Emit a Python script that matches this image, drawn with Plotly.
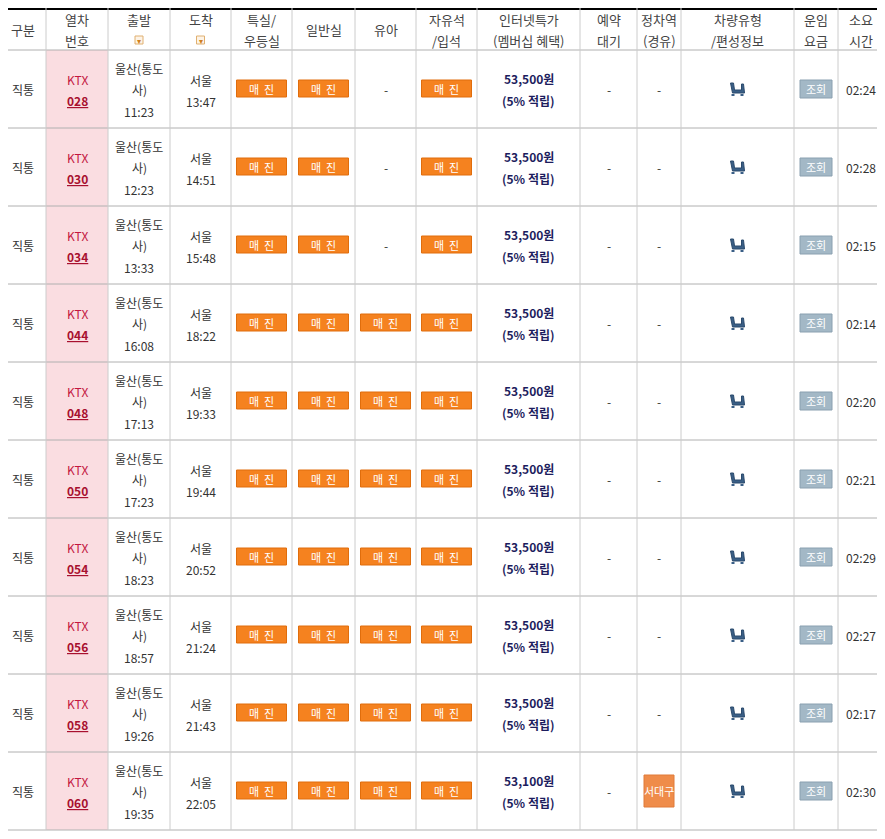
import plotly.graph_objects as go

headers = [["구분"], ["열차", "번호"], ["출발", ""], ["도착", ""], ["특실/", "우등실"], ["일반실"], ["유아"],
           ["자유석", "/입석"], ["인터넷특가", "(멤버십 혜택)"], ["예약", "대기"], ["정차역", "(경유)"],
           ["차량유형", "/편성정보"], ["운임", "요금"], ["소요", "시간"]]
col_edges = [0, 46, 108, 170, 231, 292, 355, 416, 477, 580, 637, 681, 794, 838, 883]
train_no = ["028", "030", "034", "044", "048", "050", "054", "056", "058", "060"]
dep_time = ["11:23", "12:23", "13:33", "16:08", "17:13", "17:23", "18:23", "18:57", "19:26", "19:35"]
arr_time = ["13:47", "14:51", "15:48", "18:22", "19:33", "19:44", "20:52", "21:24", "21:43", "22:05"]
infant = ["-", "-", "-", "매진", "매진", "매진", "매진", "매진", "매진", "매진"]
price = ["53,500원"] * 9 + ["53,100원"]
stops = ["-"] * 9 + ["서대구"]
duration = ["02:24", "02:28", "02:15", "02:14", "02:20", "02:21", "02:29", "02:27", "02:17", "02:30"]

HEAD_TOP, HEAD_BOT, ROW_H = 8, 50, 78
FONT = "Noto Sans CJK KR, Noto Sans, sans-serif"
shapes, ann = [], []

def cx(i):
    return (col_edges[i] + col_edges[i + 1]) / 2

def text(x, y, s, size=12, color="#333", bold=False, underline=False):
    if bold:
        s = "<b>" + s + "</b>"
    if underline:
        s = "<u>" + s + "</u>"
    ann.append(dict(x=x, y=y, text=s, showarrow=False, xref="x", yref="y",
                    font=dict(size=size, color=color, family=FONT)))

def rect(x0, y0, x1, y1, fill, line=None):
    shapes.append(dict(type="rect", x0=x0, y0=y0, x1=x1, y1=y1, xref="x", yref="y",
                       fillcolor=fill, line=dict(width=1 if line else 0, color=line or fill)))

def soldout(i, yc):
    rect(cx(i) - 25, yc - 9, cx(i) + 25, yc + 8, "#f5821f", "#e06d0c")
    text(cx(i), yc, "매  진", 11, "white")

rect(0, 8, 885, 10, "#000000")

for i, h in enumerate(headers):
    if len(h) == 1:
        text(cx(i), 29, h[0], 13, "#444")
    else:
        text(cx(i), 19, h[0], 13, "#444")
        if h[1]:
            text(cx(i), 40, h[1], 13, "#444")
        else:
            rect(cx(i) - 4, 36, cx(i) + 4, 44, "#fdf3e6", "#e0b070")
            text(cx(i), 40, "▾", 8, "#d08020")

n = len(train_no)
for r in range(n):
    top = HEAD_BOT + r * ROW_H
    yc = top + ROW_H / 2
    rect(col_edges[1], top, col_edges[2], top + ROW_H, "#fadde1")
    text(cx(0), yc, "직통")
    text(cx(1), yc - 10, "KTX", 12, "#c4163f")
    text(cx(1), yc + 11, "<b><u>" + train_no[r] + "</u></b>", 12, "#a8102f")
    text(cx(2), yc - 21, "울산(통도")
    text(cx(2), yc, "사)")
    text(cx(2), yc + 22, dep_time[r])
    text(cx(3), yc - 9, "서울")
    text(cx(3), yc + 12, arr_time[r])
    soldout(4, yc)
    soldout(5, yc)
    if infant[r] == "매진":
        soldout(6, yc)
    else:
        text(cx(6), yc, "-")
    soldout(7, yc)
    text(cx(8), yc - 11, price[r], 12, "#1d1d5e", bold=True)
    text(cx(8), yc + 11, "(5% 적립)", 12, "#1d1d5e", bold=True)
    text(cx(9), yc, "-")
    if stops[r] == "-":
        text(cx(10), yc, "-")
    else:
        rect(cx(10) - 15, yc - 16, cx(10) + 15, yc + 16, "#ef8c4a", "#e07a38")
        text(cx(10), yc, stops[r], 11, "white")
    ix = cx(11)
    shapes.append(dict(type="path", xref="x", yref="y",
                       path=f"M{ix-7},{yc-6} L{ix-5},{yc+4} L{ix+7},{yc+4} L{ix+6},{yc-5} L{ix+4},{yc-5} L{ix+4},{yc+1} L{ix-3},{yc+1} L{ix-4},{yc-6} Z",
                       fillcolor="#3a5f86", line=dict(width=1, color="#2b4a6c")))
    rect(ix - 6, yc + 5, ix - 3, yc + 7, "#3a5f86")
    rect(ix + 3, yc + 5, ix + 6, yc + 7, "#3a5f86")
    rect(cx(12) - 16, yc - 9, cx(12) + 16, yc + 9, "#a3b8c6", "#8aa0b0")
    text(cx(12), yc, "조회", 11, "white")
    text(cx(13), yc, duration[r])

bottom = HEAD_BOT + n * ROW_H
for r in range(n + 1):
    y = HEAD_BOT + r * ROW_H
    shapes.append(dict(type="line", x0=0, x1=885, y0=y, y1=y, xref="x", yref="y",
                       line=dict(color="#b0b0b0", width=1)))
for e in col_edges[1:-1]:
    shapes.append(dict(type="line", x0=e, x1=e, y0=HEAD_TOP, y1=bottom, xref="x", yref="y",
                       line=dict(color="#cccccc", width=1)))

fig = go.Figure()
fig.update_layout(width=885, height=839, margin=dict(l=0, r=0, t=0, b=0),
                  paper_bgcolor="white", plot_bgcolor="white",
                  xaxis=dict(range=[8, 893], visible=False, fixedrange=True),
                  yaxis=dict(range=[847, 8], visible=False, fixedrange=True),
                  shapes=shapes, annotations=ann, showlegend=False)
fig.write_html("out.html")
